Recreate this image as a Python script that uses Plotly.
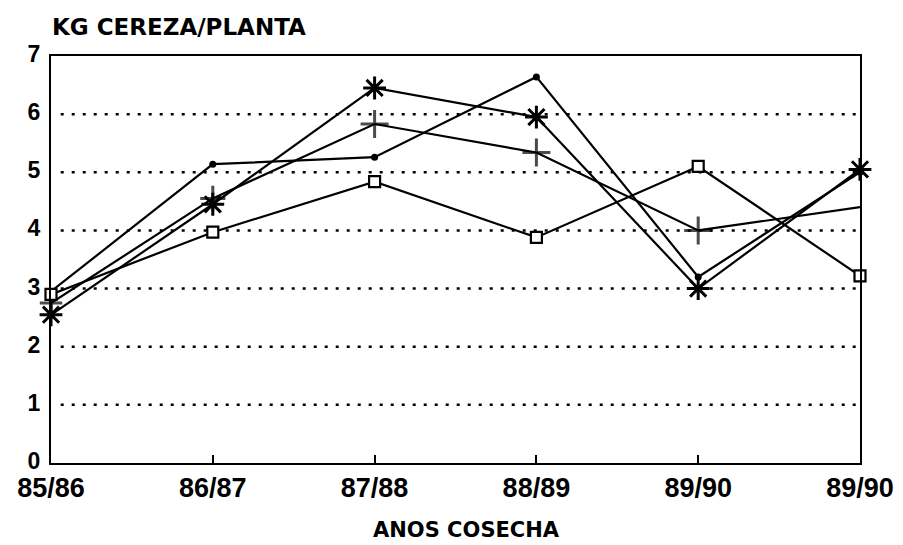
import plotly.graph_objects as go

campaigns = ["85/86", "86/87", "87/88", "88/89", "89/90", "89/90"]
x_pos = [0, 1, 2, 3, 4, 5]

serie_punto = [2.95, 5.14, 5.26, 6.64, 3.2, 5.0]
serie_cruz = [2.75, 4.55, 5.83, 5.34, 4.0, 4.4]
serie_asterisco = [2.55, 4.45, 6.45, 5.95, 3.0, 5.05]
serie_cuadrado = [2.9, 3.97, 4.84, 3.88, 5.1, 3.22]

y_ticks = [0, 1, 2, 3, 4, 5, 6, 7]

FONT = "Liberation Sans, Arial, sans-serif"
FONT_WIDE = "DejaVu Sans, Verdana, sans-serif"

fig = go.Figure()

# dotted gridlines with a short solid tick at the axis
for v in y_ticks[1:-1]:
    fig.add_shape(type="line", xref="paper", yref="y", x0=0.012, x1=1, y0=v, y1=v,
                  line=dict(color="black", width=2.5, dash="3px,8px"), layer="below")

fig.add_trace(go.Scatter(
    x=x_pos, y=serie_punto, mode="lines+markers",
    line=dict(color="black", width=2.2),
    marker=dict(symbol="circle", size=7, color="black"),
    cliponaxis=False, showlegend=False))

fig.add_trace(go.Scatter(
    x=x_pos, y=serie_cruz, mode="lines+markers",
    line=dict(color="black", width=2.2),
    marker=dict(symbol="cross-thin", size=[16, 18, 20, 20, 20, 0],
                line=dict(color="black", width=3)),
    cliponaxis=False, showlegend=False))

fig.add_trace(go.Scatter(
    x=x_pos, y=serie_asterisco, mode="lines+markers",
    line=dict(color="black", width=2.2),
    marker=dict(symbol="asterisk-open", size=19,
                line=dict(color="black", width=3)),
    cliponaxis=False, showlegend=False))

fig.add_trace(go.Scatter(
    x=x_pos, y=serie_cuadrado, mode="lines+markers",
    line=dict(color="black", width=2.2),
    marker=dict(symbol="square", size=11, color="white",
                line=dict(color="black", width=2.2)),
    cliponaxis=False, showlegend=False))

fig.update_layout(
    width=895, height=537,
    margin=dict(l=43, r=43, t=48, b=82, autoexpand=False),
    paper_bgcolor="white", plot_bgcolor="white",
    font=dict(family=FONT, color="black"),
    xaxis=dict(
        range=[0, 5], tickmode="array", tickvals=x_pos,
        ticktext=["<b>%s</b>" % c for c in campaigns],
        showgrid=False, zeroline=False,
        showline=True, linecolor="black", linewidth=2.2, mirror=True,
        ticks="inside", ticklen=8, tickwidth=1.5, tickcolor="black",
        tickfont=dict(family=FONT, size=27, color="black"),
        ticklabelstandoff=-1,
    ),
    yaxis=dict(
        range=[0, 7], tickmode="array", tickvals=y_ticks,
        ticktext=["<b>%d</b>" % v for v in y_ticks],
        showgrid=False, zeroline=False,
        showline=True, linecolor="black", linewidth=2.2, mirror=True,
        ticks="", tickfont=dict(family=FONT, size=23, color="black"),
        ticklabelstandoff=4, ticklabelshift=-2,
    ),
    annotations=[
        dict(text="<b>KG CEREZA/PLANTA</b>", xref="paper", yref="paper",
             x=0.0, y=1.0, xshift=-1, yshift=29, xanchor="left", yanchor="middle",
             showarrow=False, font=dict(family=FONT_WIDE, size=23, color="black")),
        dict(text="<b>ANOS COSECHA</b>", xref="paper", yref="paper",
             x=0.514, y=0.0, yshift=-81, xanchor="center", yanchor="bottom",
             showarrow=False, font=dict(family=FONT_WIDE, size=21, color="black")),
    ],
)

fig.write_html("out.html")
